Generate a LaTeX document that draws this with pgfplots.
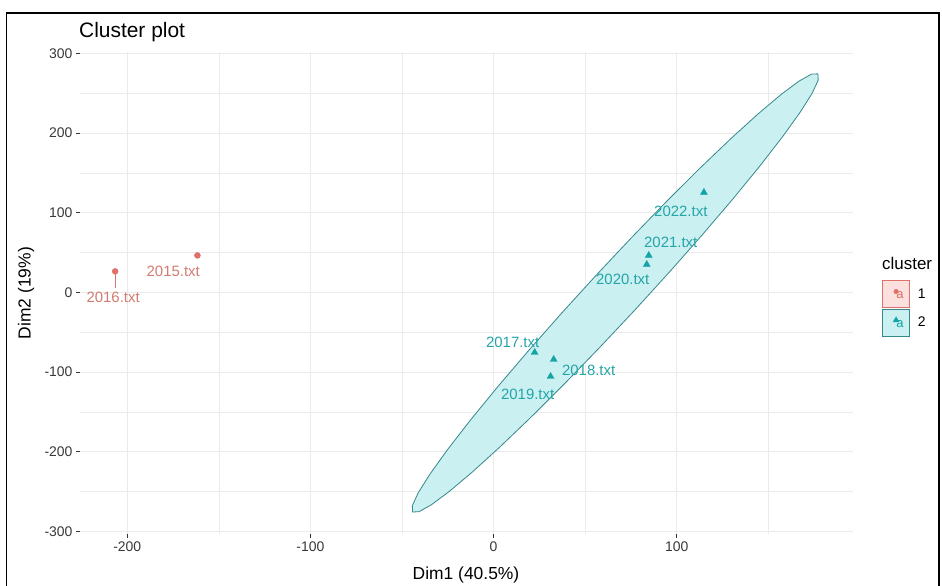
\documentclass[border=0pt]{standalone}
\usepackage{fontspec}
\setmainfont{Liberation Sans}
\usepackage{pgfplots}
\pgfplotsset{compat=1.18}
\definecolor{cred}{HTML}{E0706A}
\definecolor{credtxt}{HTML}{D27B72}
\definecolor{cteal}{HTML}{14A3A6}
\definecolor{ctealtxt}{HTML}{24A5A8}
\definecolor{ellfill}{HTML}{CBF0F1}
\definecolor{ellline}{HTML}{35888A}
\definecolor{redfill}{HTML}{FBE0DE}
\definecolor{gridc}{HTML}{EBEBEB}
\begin{document}
\begin{tikzpicture}[x=1bp,y=1bp]
\useasboundingbox (0,0) rectangle (942,586);
\draw[line width=1.6bp] (6.5,-5) -- (6.5,573) -- (939,573) -- (939,-5);
\node[anchor=base west, inner sep=0pt, font=\fontsize{21}{21}\selectfont] at (79,548) {Cluster plot};
\begin{axis}[
  at={(80bp,52bp)}, anchor=south west, scale only axis,
  width=773bp, height=482bp,
  xmin=-225.8, xmax=196.2, ymin=-303, ymax=301.6,
  axis x line*=bottom, axis y line*=left, axis line style={draw=none},
  xtick={-200,-100,0,100}, xticklabels={-200,-100,0,100},
  ytick={-300,-200,-100,0,100,200,300},
  yticklabels={-300,-200,-100,0,100,200,300},
  minor xtick={-150,-50,50,150},
  minor ytick={-250,-150,-50,50,150,250},
  grid=both,
  major grid style={gridc, line width=0.9bp},
  minor grid style={gridc, line width=0.6bp},
  tick align=outside, major tick length=4bp, minor tick length=0pt,
  tick style={black!80, line width=0.9bp},
  ticklabel style={font=\fontsize{14}{14}\selectfont, text=black!78},
  clip=false,
  legend style={at={(rel axis cs:1.0375,0.527)}, anchor=north west,
    draw=none, fill=none, inner sep=0pt, row sep=1bp,
    font=\fontsize{14}{14}\selectfont},
  legend cell align=left,
]
% ellipse of cluster 2
\addplot[fill=ellfill, draw=ellline, line width=0.8bp, forget plot] coordinates {
(177.05,274.2) (173.56,273.86) (166.81,265.20) (157.01,248.45) (144.46,224.13)
(129.54,193.00) (112.70,155.97) (94.44,114.19) (75.34,68.91) (55.97,21.54)
(36.92,-26.51) (18.76,-73.78) (2.04,-118.83) (-12.72,-160.28) (-25.06,-196.87)
(-34.64,-227.51) (-41.15,-251.26) (-44.38,-267.38) (-44.25,-275.4) (-40.76,-275.06)
(-34.01,-266.40) (-24.21,-249.65) (-11.66,-225.33) (3.26,-194.20) (20.10,-157.17)
(38.36,-115.39) (57.46,-70.11) (76.83,-22.74) (95.88,25.31) (114.04,72.58)
(130.76,117.63) (145.52,159.08) (157.86,195.67) (167.44,226.31) (173.95,250.06)
(177.18,266.18) (177.05,274.2)
};
% leader segment for 2016
\addplot[credtxt, line width=0.9bp, forget plot] coordinates {(-206.6,26.4) (-206.6,6)};
% cluster 1 points
\addplot[only marks, mark=*, mark size=3bp, cred, forget plot] coordinates {
(-206.6,26.4) (-161.7,46.4)
};
% cluster 2 points
\addplot[only marks, mark=triangle*, mark size=4bp, cteal, forget plot] coordinates {
(22.4,-75.3) (32.8,-84.1) (31.1,-105.4) (114.8,125.5) (84.7,46.4) (83.6,35.1)
};
% labels
\begin{scope}[every node/.style={font=\fontsize{15}{15}\selectfont, inner sep=0pt}]
\node[text=credtxt] at (axis cs:-207.7,-5.6) {2016.txt};
\node[text=credtxt] at (axis cs:-174.9,26.3) {2015.txt};
\node[text=ctealtxt] at (axis cs:10.4,-62.7) {2017.txt};
\node[text=ctealtxt] at (axis cs:51.9,-97.9) {2018.txt};
\node[text=ctealtxt] at (axis cs:18.6,-128) {2019.txt};
\node[text=ctealtxt] at (axis cs:102.2,101.6) {2022.txt};
\node[text=ctealtxt] at (axis cs:96.7,62.7) {2021.txt};
\node[text=ctealtxt] at (axis cs:70.5,16.3) {2020.txt};
\end{scope}
% legend
\addlegendimage{legend image code/.code={
  \draw[fill=redfill, draw=cred, line width=0.8bp] (0bp,-13.5bp) rectangle (27bp,13.5bp);
  \node[text=cred, inner sep=0pt, font=\fontsize{13}{13}\selectfont] at (13.5bp,-2bp) {a};
  \fill[cred] (13.5bp,2.5bp) circle (2.3bp);
  \path (33bp,0bp);
}}
\addlegendentry{1}
\addlegendimage{legend image code/.code={
  \draw[fill=ellfill, draw=ellline, line width=0.8bp] (0bp,-13.5bp) rectangle (27bp,13.5bp);
  \node[text=cteal, inner sep=0pt, font=\fontsize{13}{13}\selectfont] at (13.5bp,-2bp) {a};
  \fill[cteal] (13.5bp,6bp) -- (10.5bp,1bp) -- (16.5bp,1bp) -- cycle;
  \path (33bp,0bp);
}}
\addlegendentry{2}
\end{axis}
\node[anchor=west, inner sep=0pt, font=\fontsize{17}{17}\selectfont] at (882,323) {cluster};
\node[font=\fontsize{17.5}{17.5}\selectfont, inner sep=0pt] at (466,11) {Dim1 (40.5\%)};
\node[rotate=90, font=\fontsize{17.5}{17.5}\selectfont, inner sep=0pt] at (26,293) {Dim2 (19\%)};
\end{tikzpicture}
\end{document}
